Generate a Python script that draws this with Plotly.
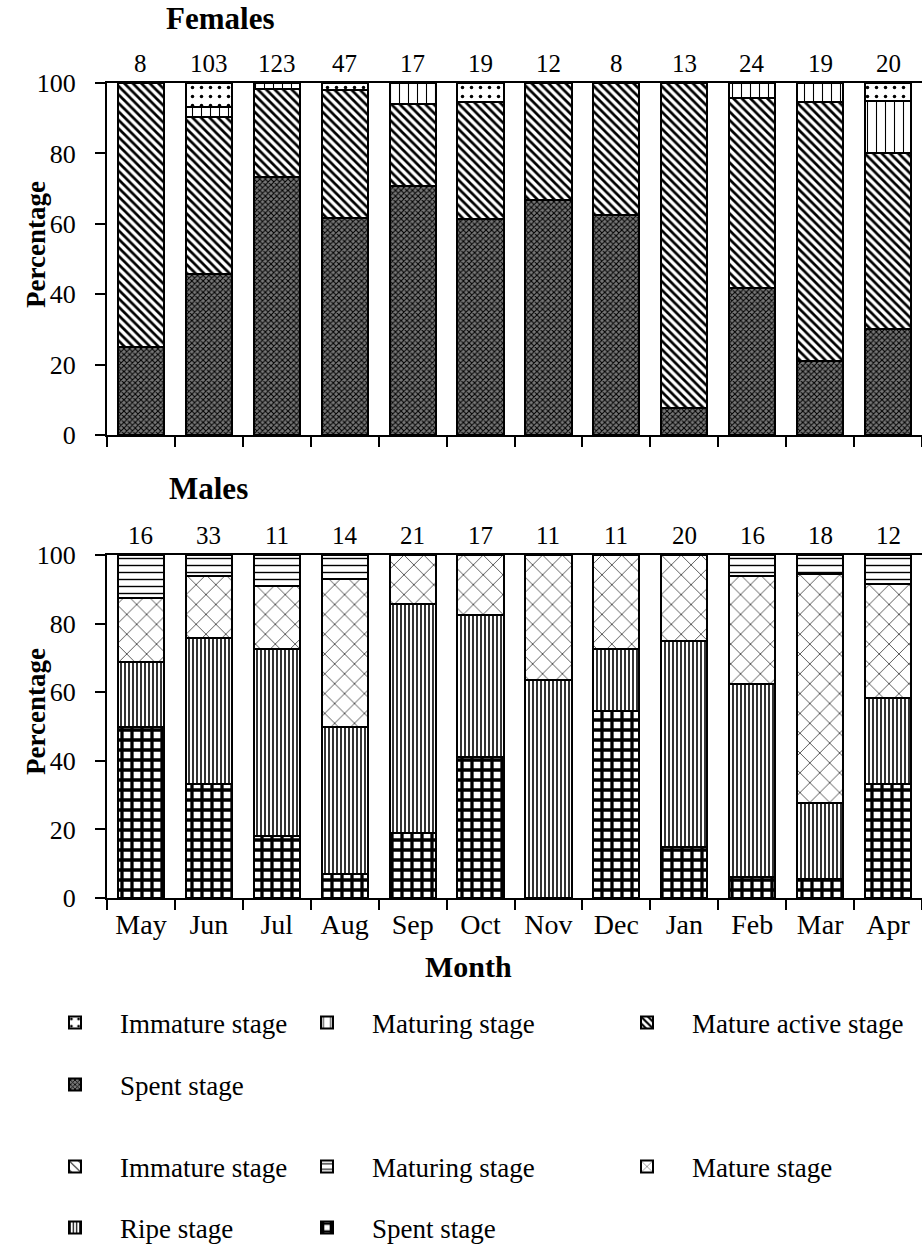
import plotly.graph_objects as go

months = ["May", "Jun", "Jul", "Aug", "Sep", "Oct", "Nov", "Dec", "Jan", "Feb", "Mar", "Apr"]

female_n = [8, 103, 123, 47, 17, 19, 12, 8, 13, 24, 19, 20]
f_immature = [0, 6.8, 0, 2.1, 0, 5.3, 0, 0, 0, 0, 0, 5]
f_maturing = [0, 2.9, 1.6, 0, 5.9, 0, 0, 0, 0, 4.2, 5.3, 15]
f_mature_active = [75, 44.7, 25.2, 36.2, 23.5, 33.3, 33.3, 37.5, 92.3, 54.1, 73.6, 50]
f_spent = [25, 45.6, 73.2, 61.7, 70.6, 61.4, 66.7, 62.5, 7.7, 41.7, 21.1, 30]

male_n = [16, 33, 11, 14, 21, 17, 11, 11, 20, 16, 18, 12]
m_immature = [0, 0, 0, 0, 0, 0, 0, 0, 0, 0, 0, 0]
m_maturing = [12.5, 6.1, 9.1, 7.1, 0, 0, 0, 0, 0, 6.25, 5.6, 8.3]
m_mature = [18.75, 18.2, 18.2, 42.9, 14.3, 17.6, 36.4, 27.3, 25, 31.25, 66.7, 33.3]
m_ripe = [18.75, 42.4, 54.5, 42.9, 66.7, 41.2, 63.6, 18.2, 60, 56.25, 22.2, 25]
m_spent = [50, 33.3, 18.2, 7.1, 19.0, 41.2, 0, 54.5, 15, 6.25, 5.6, 33.3]

FONT = "Liberation Serif, Times New Roman, serif"
W, H = 922, 1245

fig = go.Figure()


def pat(shape, size, solidity, bg="white", fg="black"):
    return dict(shape=shape, size=size, solidity=solidity, fgcolor=fg, bgcolor=bg, fillmode="replace")


female_series = [
    ("Spent stage", f_spent, pat("x", 4, 0.45, bg="#777777"), "legend4"),
    ("Mature active stage", f_mature_active, pat("\\", 6, 0.45), "legend3"),
    ("Maturing stage", f_maturing, pat("|", 9, 0.12), "legend2"),
    ("Immature stage", f_immature, pat(".", 9, 0.12), "legend10"),
]
male_series = [
    ("Spent stage", m_spent, pat("+", 10, 0.55), "legend9"),
    ("Ripe stage", m_ripe, pat("|", 4, 0.4), "legend8"),
    ("Mature stage", m_mature, pat("x", 14, 0.09), "legend7"),
    ("Maturing stage", m_maturing, pat("-", 7, 0.2), "legend6"),
    ("Immature stage", m_immature, pat("\\", 8, 0.15), "legend5"),
]

for name, vals, p, lg in female_series:
    fig.add_trace(go.Bar(x=months, y=vals, name=name, legend=lg, xaxis="x", yaxis="y",
                         marker=dict(color="white", pattern=p, line=dict(color="black", width=2))))
for name, vals, p, lg in male_series:
    fig.add_trace(go.Bar(x=months, y=vals, name=name, legend=lg, xaxis="x2", yaxis="y2",
                         marker=dict(color="white", pattern=p, line=dict(color="black", width=2))))

L, R = 107, 0
pw = W - L - R


def px_x(p):
    return (p - L) / pw


def px_y(p):
    return 1 - p / H


def axis(tsize):
    return dict(showline=True, linecolor="black", linewidth=2, ticks="outside", ticklen=10,
                tickwidth=2, tickcolor="black", tickfont=dict(family=FONT, size=tsize, color="black"),
                showgrid=False, zeroline=False)


fig.update_layout(
    width=W, height=H, barmode="stack", bargap=0.32,
    margin=dict(l=L, r=R, t=0, b=0, autoexpand=False),
    paper_bgcolor="white", plot_bgcolor="white",
    font=dict(family=FONT, size=25, color="black"),
    showlegend=True,
    xaxis=dict(**axis(28), domain=[0, 1], anchor="y", tickson="boundaries", showticklabels=False,
               mirror=True, range=[-0.5, 11.5], type="category"),
    yaxis=dict(**axis(26), domain=[px_y(435), px_y(83)], anchor="x", range=[0, 100], dtick=20,
               ticklabelstandoff=14),
    xaxis2=dict(**axis(28), domain=[0, 1], anchor="y2", tickson="boundaries", mirror=True,
                range=[-0.5, 11.5], type="category"),
    yaxis2=dict(**axis(26), domain=[px_y(898), px_y(555)], anchor="x2", range=[0, 100], dtick=20,
                ticklabelstandoff=14),
    legend=dict(visible=False),
)

# legends (one per entry so they sit in the reference grid); value = (text start x, row center y)
legend_pos = {
    "legend10": (120, 1023), "legend2": (372, 1023), "legend3": (692, 1023), "legend4": (120, 1085),
    "legend5": (120, 1167), "legend6": (372, 1167), "legend7": (692, 1167),
    "legend8": (120, 1228), "legend9": (372, 1228),
}
for key, (tx, cy) in legend_pos.items():
    fig.update_layout({key: dict(x=px_x(tx - 90), y=px_y(cy), xanchor="left", yanchor="middle",
                                 orientation="h", itemwidth=80, bgcolor="rgba(0,0,0,0)",
                                 font=dict(family=FONT, size=27, color="black"))})

ann = []
for m, n in zip(months, female_n):
    ann.append(dict(x=m, xref="x", y=1, yref="y domain", yanchor="bottom", yshift=4, text=str(n),
                    showarrow=False, font=dict(family=FONT, size=25)))
for m, n in zip(months, male_n):
    ann.append(dict(x=m, xref="x2", y=1, yref="y2 domain", yanchor="bottom", yshift=4, text=str(n),
                    showarrow=False, font=dict(family=FONT, size=25)))

common = dict(xref="paper", yref="paper", showarrow=False, xanchor="center", yanchor="middle")
ann += [
    dict(x=px_x(220), y=px_y(19), text="<b>Females</b>", font=dict(family=FONT, size=31), **common),
    dict(x=px_x(208), y=px_y(488), text="<b>Males</b>", font=dict(family=FONT, size=31), **common),
    dict(x=px_x(36), y=px_y(245), text="<b>Percentage</b>", textangle=-90,
         font=dict(family=FONT, size=27), **common),
    dict(x=px_x(36), y=px_y(712), text="<b>Percentage</b>", textangle=-90,
         font=dict(family=FONT, size=27), **common),
    dict(x=px_x(468), y=px_y(966), text="<b>Month</b>", font=dict(family=FONT, size=30), **common),
]
fig.update_layout(annotations=ann)

fig.write_html("out.html", config={"displayModeBar": False},
               post_script="document.body.style.margin='0';")
